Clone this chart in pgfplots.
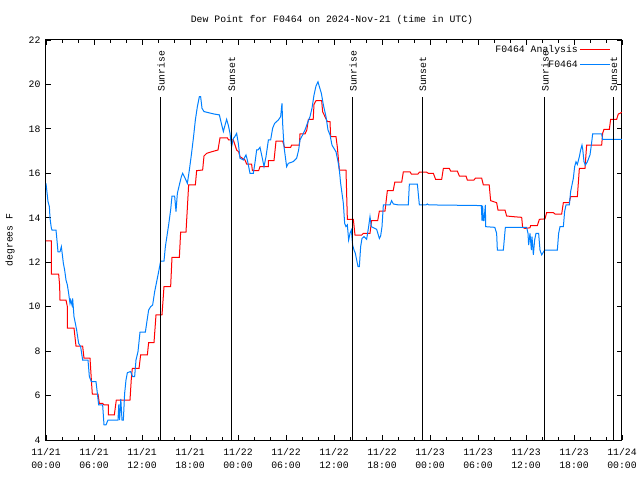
\documentclass[border=0pt]{standalone}
\usepackage{fontspec}
\setmainfont{Liberation Mono}
\usepackage{pgfplots}
\pgfplotsset{compat=1.18}
\definecolor{anared}{RGB}{255,0,0}
\definecolor{obsblue}{RGB}{0,128,255}
\begin{document}
\begin{tikzpicture}
\useasboundingbox (-46pt,-40pt) rectangle (594pt,440pt);
\begin{axis}[
  scale only axis, width=576pt, height=400pt,
  at={(0pt,0pt)}, anchor=south west,
  xmin=0, xmax=72, ymin=4, ymax=22,
  xtick={0,6,...,72},
  xticklabels={{11/21\\00:00},{11/21\\06:00},{11/21\\12:00},{11/21\\18:00},{11/22\\00:00},{11/22\\06:00},{11/22\\12:00},{11/22\\18:00},{11/23\\00:00},{11/23\\06:00},{11/23\\12:00},{11/23\\18:00},{11/24\\00:00}},
  xticklabel style={align=center, font=\fontsize{9.8}{13}\selectfont, yshift=-5pt},
  minor x tick num=2,
  ytick={4,6,...,22},
  yticklabel style={font=\fontsize{9.8}{12}\selectfont, xshift=-2pt},
  /pgf/number format/assume math mode=true,
  tick align=inside,
  major tick length=5pt, minor tick length=3pt,
  every tick/.style={black, line width=0.8pt},
  axis line style={line width=1pt},
  legend style={at={(1,1)}, anchor=north east, xshift=-10pt, yshift=-2pt, draw=none, fill=none,
    font=\fontsize{9.8}{12}\selectfont, legend cell align=right, row sep=3pt, inner sep=1pt},
  legend plot pos=right,
  legend image code/.code={\draw[#1] (0pt,0pt) -- (30pt,0pt);},
]
\addplot[anared, line width=1pt] coordinates {
(0,12.96) (0.67,12.96) (0.67,11.47) (1.58,11.47) (1.7,10.98) (1.75,10.3) (2.5,10.3) (2.67,10.0) (2.67,9.03) (3.5,9.03) (3.75,8.23) (4.58,8.23) (4.75,7.68) (5.5,7.68) (5.71,6.48) (5.79,6.07) (6.5,6.07) (6.67,5.65) (7.08,5.65) (7.25,5.58) (7.79,5.58) (7.79,5.13) (8.54,5.13) (8.79,5.8) (10.5,5.8) (10.67,6.78) (10.79,7.22) (11.63,7.22) (11.83,7.83) (12.67,7.83) (12.83,8.38) (13.5,8.38) (13.75,9.63) (14.5,9.63) (14.75,10.9) (15.58,10.9) (15.75,12.22) (16.67,12.22) (16.83,13.35) (17.5,13.35) (17.83,15.48) (18.67,15.48) (18.83,16.12) (19.58,16.15) (19.75,16.78) (20.08,16.9) (20.7,16.97) (21.5,17.05) (21.75,17.6) (22.67,17.6) (22.83,17.5) (23.42,17.5) (23.83,17.05) (24.08,16.97) (24.25,16.75) (24.875,16.6) (25.08,16.42) (25.7,16.42) (25.8,16.12) (26.58,16.12) (26.75,16.3) (27.8,16.3) (27.8,16.57) (28.5,16.57) (28.75,17.45) (29.58,17.45) (29.83,17.17) (30.58,17.17) (30.7,17.27) (31.67,17.27) (31.75,17.77) (32.375,17.77) (32.6,17.95) (32.8,18.43) (33.4,18.43) (33.5,19.1) (33.75,19.27) (34.46,19.27) (34.58,18.77) (35.17,18.33) (35.5,18.33) (35.58,17.65) (36.25,17.65) (36.42,17.17) (36.67,16.15) (37.5,16.15) (37.67,13.93) (38.42,13.93) (38.625,13.22) (39.46,13.22) (39.67,13.3) (40.5,13.3) (40.7,13.87) (41.46,13.87) (41.67,14.3) (42.375,14.3) (42.67,15.22) (43.4,15.22) (43.6,15.6) (44.46,15.6) (44.67,16.07) (45.5,16.07) (45.67,15.97) (46.5,15.97) (46.67,16.05) (47.58,16.05) (47.8,16.0) (48.42,16.0) (48.7,15.73) (49.46,15.73) (49.67,16.22) (50.42,16.22) (50.58,16.1) (51.42,16.1) (51.67,15.88) (52.5,15.88) (52.67,15.7) (53.5,15.7) (53.67,15.78) (54.46,15.78) (54.67,15.48) (55.4,15.48) (55.58,14.77) (56.33,14.68) (56.5,14.35) (57.375,14.35) (57.58,14.08) (58.4,14.05) (59.46,14.02) (59.58,13.57) (59.875,13.52) (60.5,13.55) (60.58,13.65) (61.42,13.65) (61.67,13.93) (62.375,13.95) (62.58,14.23) (63.42,14.23) (63.625,14.17) (64.46,14.17) (64.67,14.68) (65.4,14.68) (65.58,14.95) (66.42,14.95) (66.67,16.22) (67.375,16.22) (67.58,17.27) (69.46,17.27) (69.58,17.8) (69.75,17.98) (70.42,17.98) (70.58,18.43) (71.33,18.43) (71.54,18.67) (71.75,18.7) (72,18.75)
};
\addlegendentry{F0464 Analysis}
\addplot[obsblue, line width=1pt] coordinates {
(0,15.55) (0.25,14.73) (0.42,14.5) (0.5,13.98) (0.67,13.53) (0.75,13.45) (1.25,13.45) (1.33,13.15) (1.5,12.47) (1.75,12.47) (1.92,12.7) (2.0,12.47) (2.17,11.95) (2.33,11.65) (2.5,11.2) (2.67,10.98) (2.83,10.6) (3.0,10.15) (3.08,10.3) (3.25,10.07) (3.33,10.37) (3.5,9.55) (3.67,9.25) (3.83,8.95) (4.08,8.35) (4.33,8.2) (4.58,7.6) (5.25,7.6) (5.42,6.85) (5.67,6.63) (6.25,6.63) (6.42,6.1) (6.58,5.58) (7.08,5.58) (7.25,4.68) (7.5,4.68) (7.75,4.9) (9.0,4.9) (9.1,5.6) (9.2,4.9) (9.35,5.85) (9.5,4.9) (9.67,4.9) (9.83,6.1) (10.0,6.7) (10.17,7.03) (10.58,7.08) (10.83,6.85) (11.08,6.85) (11.25,7.6) (11.5,7.98) (11.75,8.85) (12.42,8.85) (12.58,9.25) (12.83,9.85) (13.08,10.0) (13.33,10.07) (13.58,10.67) (13.83,11.12) (14.08,11.57) (14.33,12.05) (14.75,12.05) (14.92,12.7) (15.08,13.08) (15.33,13.68) (15.58,14.35) (15.75,14.98) (16.08,14.98) (16.25,14.28) (16.42,15.1) (16.67,15.48) (16.92,15.85) (17.08,16.0) (17.3,15.85) (17.67,15.55) (17.92,16.15) (18.17,16.83) (18.42,17.57) (18.67,18.4) (18.92,19.0) (19.17,19.45) (19.33,19.45) (19.5,18.93) (19.75,18.78) (20.3,18.73) (21.0,18.67) (21.67,18.63) (21.92,18.25) (22.17,17.88) (22.33,18.1) (22.58,18.43) (22.8,18.15) (23.0,17.8) (23.2,17.2) (23.42,17.57) (23.6,17.65) (23.83,17.8) (24.04,17.35) (24.25,16.68) (24.67,16.6) (25.0,16.83) (25.17,16.6) (25.5,16.0) (25.92,16.0) (26.17,16.6) (26.33,17.05) (26.5,17.05) (26.75,17.17) (27,16.75) (27.25,16.3) (27.5,16.75) (27.8,17.5) (28.08,17.5) (28.33,18.03) (28.58,18.25) (29.04,18.4) (29.33,18.55) (29.5,19.15) (29.58,18.25) (29.75,17.2) (30.08,16.3) (30.3,16.45) (30.92,16.53) (31.33,16.68) (31.58,17.05) (31.75,17.5) (32.08,17.73) (32.375,17.95) (32.67,18.25) (33,18.55) (33.25,18.93) (33.5,19.52) (33.75,19.93) (34,20.12) (34.17,19.9) (34.42,19.6) (34.67,19.08) (35,18.55) (35.25,17.95) (35.5,17.73) (35.75,17.27) (36,17.12) (36.25,16.97) (36.5,16.53) (36.67,16.15) (36.83,15.55) (37.0,15.1) (37.17,14.65) (37.33,13.75) (37.5,13.6) (37.67,13.68) (37.83,13.0) (38.0,13.3) (38.17,13.45) (38.33,12.77) (38.5,12.55) (38.67,12.4) (39.0,11.8) (39.17,11.8) (39.33,12.7) (39.5,13.07) (39.75,13.15) (40.08,13.03) (40.33,13.6) (40.5,14.05) (40.67,13.6) (41.33,13.48) (41.67,13.07) (41.83,13.18) (42.0,13.6) (42.17,14.58) (43.0,14.58) (43.2,14.77) (43.42,14.62) (44.04,14.58) (45.29,14.58) (45.42,15.52) (46.42,15.52) (46.67,14.58) (47.5,14.58) (47.67,14.62) (47.83,14.58) (54.42,14.55) (54.5,13.87) (54.58,14.55) (54.67,13.87) (54.75,13.87) (54.92,14.58) (54.96,13.6) (56.1,13.57) (56.33,13.3) (56.42,12.55) (57.17,12.55) (57.42,13.57) (60.08,13.57) (60.25,13.3) (60.33,12.77) (60.5,13.3) (60.67,12.55) (60.75,13.15) (60.92,12.33) (61.08,13.0) (61.25,13.3) (61.58,13.3) (61.75,12.55) (61.96,12.33) (62.25,12.5) (62.375,12.55) (63.92,12.55) (64.08,13.3) (64.25,13.6) (64.67,13.6) (64.83,14.28) (65,14.58) (65.42,14.58) (65.58,15.18) (65.75,15.48) (65.92,15.78) (66.08,16.3) (66.25,16.52) (66.42,16.4) (66.67,16.75) (66.83,17.05) (67,17.27) (67.1,17.05) (67.25,16.52) (67.42,16.37) (67.67,16.52) (68,16.83) (68.17,17.27) (68.33,17.77) (69.46,17.77) (69.58,17.53) (72,17.53)
};
\addlegendentry{F0464}
\addplot[black, line width=1pt, forget plot] coordinates {(14.375,4) (14.375,19.45)};
\addplot[black, line width=1pt, forget plot] coordinates {(23.25,4) (23.25,19.45)};
\addplot[black, line width=1pt, forget plot] coordinates {(38.375,4) (38.375,19.45)};
\addplot[black, line width=1pt, forget plot] coordinates {(47.125,4) (47.125,19.45)};
\addplot[black, line width=1pt, forget plot] coordinates {(62.375,4) (62.375,19.45)};
\addplot[black, line width=1pt, forget plot] coordinates {(71.0,4) (71.0,19.45)};
\foreach \xx/\tt in {14.375/Sunrise, 23.25/Sunset, 38.375/Sunrise, 47.125/Sunset, 62.375/Sunrise, 71.0/Sunset}{
  \edef\tmp{\noexpand\node[rotate=90, anchor=west, inner sep=0pt, font=\noexpand\fontsize{9.8}{12}\noexpand\selectfont] at (axis cs:\xx,19.66) {\tt};}
  \tmp
}
\end{axis}
\node[font=\fontsize{9.8}{12}\selectfont] at (286pt,420pt) {Dew Point for F0464 on 2024-Nov-21 (time in UTC)};
\node[rotate=90, font=\fontsize{9.8}{12}\selectfont] at (-36pt,200pt) {degrees F};
\end{tikzpicture}
\end{document}
